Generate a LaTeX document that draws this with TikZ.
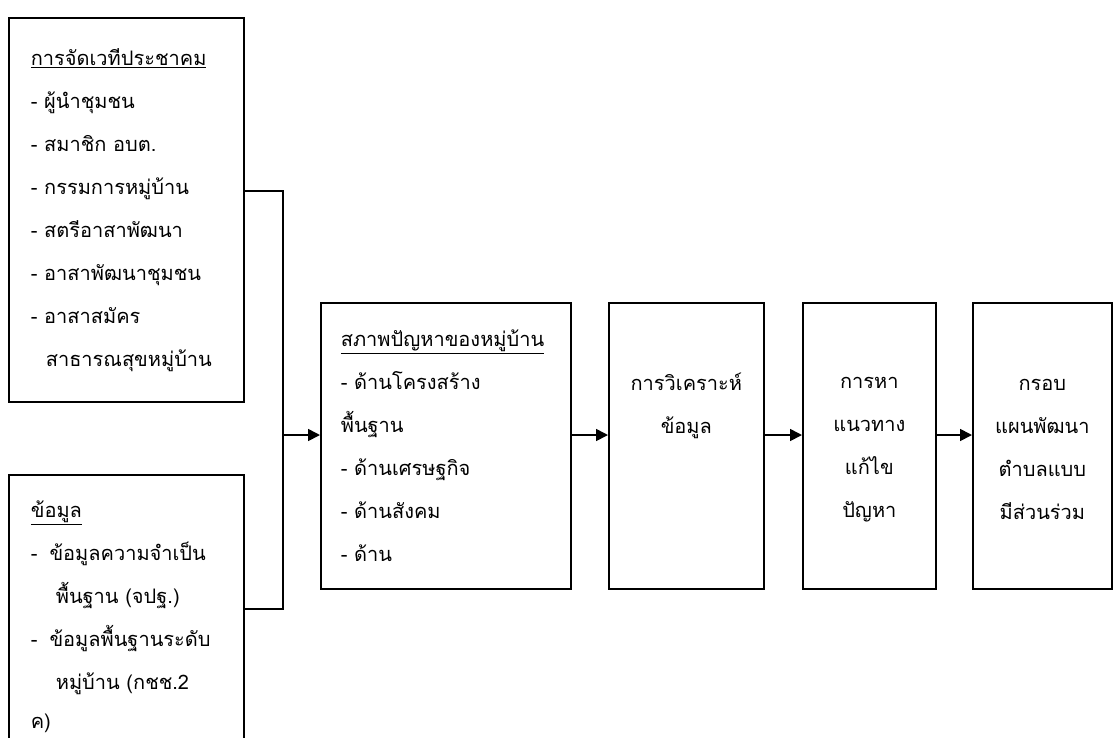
\documentclass[tikz,border=0pt]{standalone}
\usepackage{fontspec}
\newfontfamily\thai[Script=Thai]{Loma}
\usetikzlibrary{arrows.meta}

\tikzset{
	box/.style={draw, line width=1.7pt, anchor=north west, inner ysep=0pt, font=\thai\fontsize{20}{43}\selectfont},
	flow/.style={line width=1.7pt, -{Triangle[length=12pt,width=12pt]}}
}

\begin{document}
\begin{tikzpicture}[x=1pt,y=-1pt]
		\useasboundingbox (0,0) rectangle (1113,737);
		\clip (0,0) rectangle (1113,737);

		\draw (8,17) node [box, align=left, inner xsep=22pt, text width=191pt, minimum height=384pt] (meet)
			{\underline{การจัดเวทีประชาคม}\\- ผู้นำชุมชน\\- สมาชิก อบต.\\- กรรมการหมู่บ้าน\\- สตรีอาสาพัฒนา\\- อาสาพัฒนาชุมชน\\- อาสาสมัคร\\\hspace*{15pt}สาธารณสุขหมู่บ้าน};
		\draw (8,474) node [box, align=left, inner xsep=22pt, text width=191pt, minimum height=284pt] (data)
			{\underline{ข้อมูล}\\-\hspace*{12pt}ข้อมูลความจำเป็น\\\hspace*{25pt}พื้นฐาน (จปฐ.)\\-\hspace*{12pt}ข้อมูลพื้นฐานระดับ\\\hspace*{25pt}หมู่บ้าน (กชช.2\\[-4pt]ค)};
		\draw (320,302) node [box, align=left, inner xsep=20pt, text width=210pt, minimum height=286pt] (probs)
			{\underline{สภาพปัญหาของหมู่บ้าน}\\- ด้านโครงสร้าง\\พื้นฐาน\\- ด้านเศรษฐกิจ\\- ด้านสังคม\\- ด้าน};
		\draw (608,302) node [box, align=center, inner xsep=0pt, text width=155pt, minimum height=286pt] (analyze)
			{การวิเคราะห์\\ข้อมูล\\~\\~};
		\draw (802,302) node [box, align=center, inner xsep=0pt, text width=133pt, minimum height=286pt] (solve)
			{~\\[-25pt]การหา\\แนวทาง\\แก้ไข\\ปัญหา};
		\draw (972,302) node [box, align=center, inner xsep=0pt, text width=139pt, minimum height=286pt] (plan)
			{~\\[-25pt]กรอบ\\แผนพัฒนา\\ตำบลแบบ\\มีส่วนร่วม};

		\coordinate (join) at (283,435);

		\draw [line width=1.7pt] ([yshift=19pt]meet.east) -| (join) |- ([yshift=8pt]data.east);
		\draw
			(join) edge [flow] (probs.west |- join)
			(probs.east |- join) edge [flow] (analyze.west |- join)
			(analyze.east |- join) edge [flow] (solve.west |- join)
			(solve.east |- join) edge [flow] (plan.west |- join)
		;
	\end{tikzpicture}
\end{document}
